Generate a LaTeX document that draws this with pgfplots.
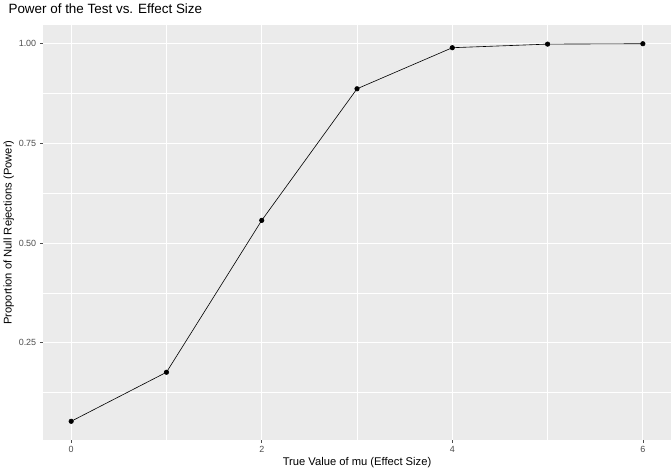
\documentclass[border=0pt]{standalone}
\usepackage{pgfplots}
\pgfplotsset{compat=1.18}
\usepackage{fontspec}
\setmainfont{Liberation Sans}
\definecolor{panel}{HTML}{EBEBEB}
\definecolor{tickc}{HTML}{4D4D4D}
\begin{document}
\begin{tikzpicture}
\begin{axis}[
  scale only axis, width=618pt, height=408pt,
  xmin=-0.3, xmax=6.3, ymin=0.0057, ymax=1.047,
  axis background/.style={fill=panel},
  axis line style={draw=none},
  xtick={0,2,4,6}, ytick={0.25,0.5,0.75,1.0},
  yticklabels={0.25,0.50,0.75,1.00},
  minor xtick={1,3,5}, minor ytick={0.125,0.375,0.625,0.875},
  grid=both,
  major grid style={white, line width=1.1pt},
  minor grid style={white, line width=0.5pt},
  tick align=outside, xtick pos=bottom, ytick pos=left,
  major tick length=2.75pt, minor tick length=0pt,
  tick style={tickc, line width=0.5pt},
  ticklabel style={font=\fontsize{8.8}{10}\selectfont, text=tickc},
  /pgf/number format/assume math mode=true,
  xlabel={True Value of mu (Effect Size)},
  ylabel={Proportion of Null Rejections (Power)},
  label style={font=\fontsize{11}{13}\selectfont},
  xlabel style={yshift=2pt},
  ylabel style={yshift=-2pt},
  title={Power of the Test vs. Effect Size},
  title style={font=\fontsize{13.2}{15}\selectfont, anchor=south west, at={(0,1)}, xshift=-37pt, yshift=2pt},
]
\addplot[black, line width=0.6pt, mark=*, mark size=2.2pt] coordinates {
(0,0.053) (1,0.176) (2,0.557) (3,0.887) (4,0.990) (5,0.999) (6,1.000)};
\end{axis}
\end{tikzpicture}
\end{document}
